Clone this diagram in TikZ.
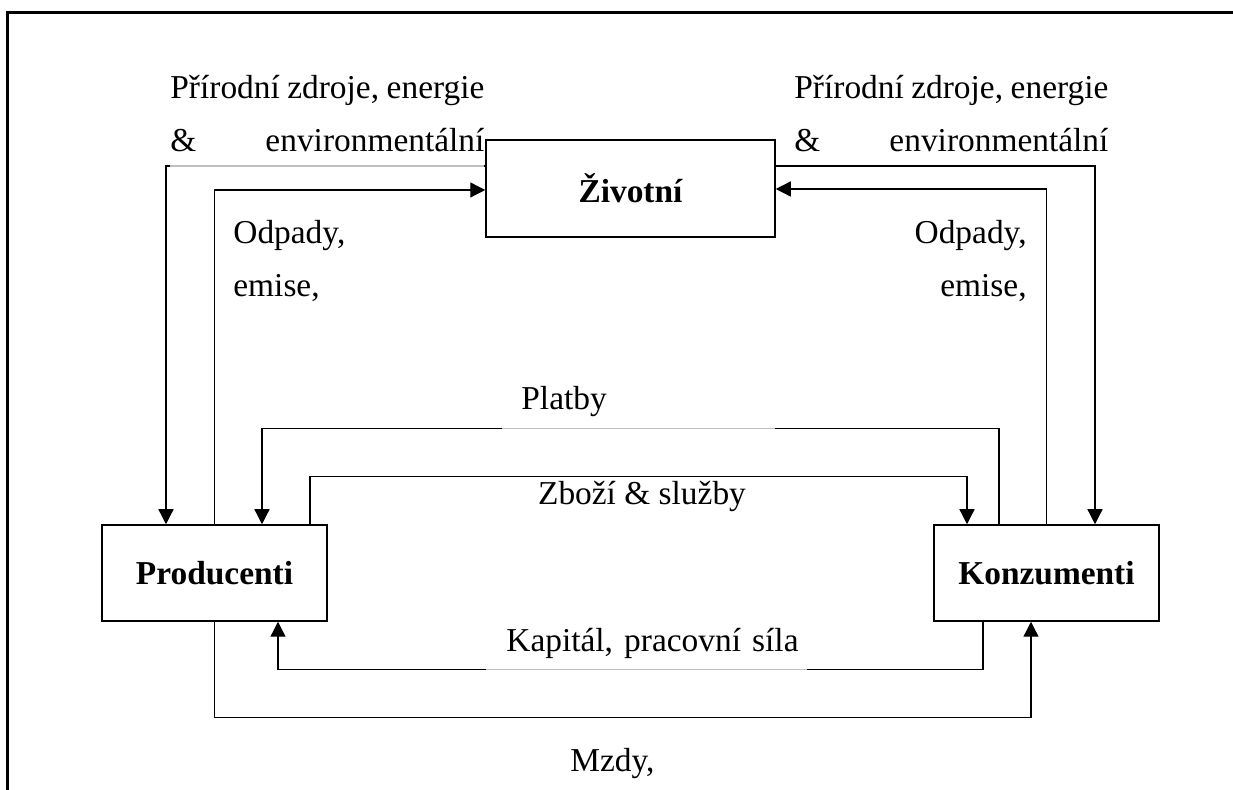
\documentclass[tikz,border=0pt]{standalone}
\usepackage{fontspec}
\setmainfont{Liberation Serif}
\usetikzlibrary{arrows.meta,positioning}
\newcommand{\diafont}{\fontsize{16.7pt}{26.5pt}\selectfont}
\newcommand{\resline}[1]{\makebox[157pt][s]{#1}}

\begin{document}
\begin{tikzpicture}[x=0.5pt, y=-0.5pt, >={Triangle[length=7.5pt,width=7.5pt]},
  sect/.style={draw, line width=0.75pt, fill=white, inner sep=0pt,
    minimum width=112.5pt, minimum height=48pt, font=\diafont\bfseries},
  flow/.style={draw, line width=0.65pt},
  lbl/.style={font=\diafont, inner sep=0pt, align=left},
  gap/.style={lbl, fill=white, fill opacity=0.75, text opacity=1}]
\useasboundingbox (0,0) rectangle (1233,790);
\draw[line width=1.2pt] (1233,12.5) -- (7.5,12.5) -- (7.5,790);
% sectors
\node[sect, minimum width=144.5pt, minimum height=48.5pt] (env) at (630.5,188.5) {Životní};
\node[sect] (prod) at (214.5,573) {Producenti};
\node[sect] (kons) at (1046.5,573) {Konzumenti};
% flows
\draw[flow,->] ([yshift=11.25pt]env.west) -| ([xshift=-24.25pt]prod.north);
\draw[flow,->] (prod.north) |- ([yshift=-0.75pt]env.west);
\draw[flow,->] ([yshift=11.25pt]env.east) -| ([xshift=24.25pt]kons.north);
\draw[flow,->] (kons.north) |- ([yshift=-0.25pt]env.east);
\draw[flow,->] ([xshift=-23.75pt]kons.north) -- ++(0,-96) -| ([xshift=23.75pt]prod.north);
\draw[flow,->] ([xshift=47.75pt]prod.north) -- ++(0,-48) -| ([xshift=-39.75pt]kons.north);
\draw[flow,->] ([xshift=-31.75pt]kons.south) -- ++(0,48) -| ([xshift=31.75pt]prod.south);
\draw[flow,->] (prod.south) -- ++(0,96) -| ([xshift=-7.75pt]kons.south);
% labels
\node[gap, anchor=base west, text depth=9pt] (resL) at (170,152)
  {\resline{Přírodní zdroje, energie}\\\resline{\& environmentální}};
\node[lbl, anchor=base west] (resR) at (794,152)
  {\resline{Přírodní zdroje, energie}\\\resline{\& environmentální}};
\node[lbl, anchor=base west] (wasteL) at (233,297) {Odpady,\\emise,};
\node[lbl, anchor=base east, align=right] (wasteR) at (1027,297) {Odpady,\\emise,};
\node[gap, anchor=base west, text width=136.5pt, text depth=11pt] (platby) at (502,410)
  {\hspace*{9.5pt}Platby};
\node[lbl, anchor=base] (zbozi) at (642,505) {Zboží \& služby};
\node[gap, anchor=base west, text width=160.5pt, text depth=10.5pt] (kapital) at (486,652)
  {\hspace*{10pt}Kapitál, pracovní síla};
\node[lbl, anchor=base west] (mzdy) at (570,772) {Mzdy,};
\end{tikzpicture}
\end{document}
